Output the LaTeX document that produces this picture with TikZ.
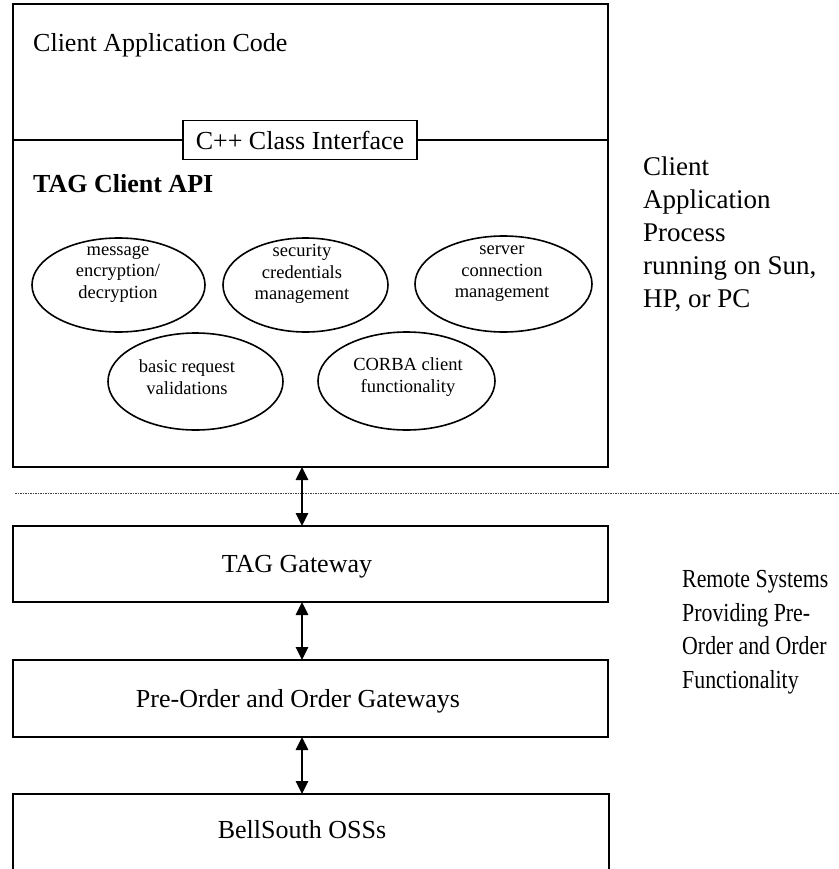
\documentclass[tikz,border=0pt]{standalone}
\usepackage{fontspec}
\setmainfont{Liberation Serif}
\newfontfamily\narrowserif[FakeStretch=0.84]{Liberation Serif}
\usetikzlibrary{arrows.meta,shapes.geometric}

\begin{document}
\begin{tikzpicture}[x=1pt,y=-1pt,
  frame/.style={draw, line width=1.8pt, inner sep=0pt, outer sep=0pt},
  bubble/.style={draw, ellipse, line width=1.6pt, inner sep=0pt, outer sep=0pt},
  bubbletext/.style={align=center, inner sep=0pt, font=\fontsize{18.5}{21.5}\selectfont},
  bigtext/.style={inner sep=0pt, font=\fontsize{26}{31}\selectfont},
  sidetext/.style={inner sep=0pt, align=left, anchor=base west, font=\fontsize{27}{33}\selectfont},
  sidetextnarrow/.style={inner sep=0pt, align=left, anchor=base west, font=\narrowserif\fontsize{26}{33.5}\selectfont},
  biarrow/.style={{Triangle[width=12.5pt,length=13pt]}-{Triangle[width=12.5pt,length=13pt]}, line width=1.4pt},
  boundary/.style={line width=1pt, black!75, dash pattern=on 1.5pt off 1pt}
]
\useasboundingbox (0,0) rectangle (838,869);

% client process frame
\node[frame, anchor=north west, minimum width=595pt, minimum height=463pt] (client) at (13,4) {};
\node[bigtext, anchor=base west] (code) at (33,52) {Client Application Code};

% interface box sitting on the divider
\node[frame, fill=white, minimum width=234pt, minimum height=39pt] (cpp) at (300,140) {};
\node[bigtext] (cpptext) at (cpp.center) {C++ Class Interface};
\draw[line width=1.8pt] (client.west |- cpp) -- (cpp.west);
\draw[line width=1.8pt] (cpp.east) -- (client.east |- cpp);

\node[bigtext, anchor=base west, font=\fontsize{26}{31}\selectfont\bfseries] (api) at (33,193) {TAG Client API};

% API components
\node[bubble, minimum width=173pt, minimum height=94pt] (e1) at (118.5,285) {};
\node[bubble, minimum width=165pt, minimum height=94pt] (e2) at (305.5,285) {};
\node[bubble, minimum width=177pt, minimum height=96pt] (e3) at (503.5,284) {};
\node[bubble, minimum width=175pt, minimum height=97pt] (e4) at (195.5,381.5) {};
\node[bubble, minimum width=177pt, minimum height=98pt] (e5) at (406.5,381) {};

\node[bubbletext] (t1) at (118,274) {message\\encryption/\\decryption};
\node[bubbletext] (t2) at (302,274) {security\\credentials\\management};
\node[bubbletext] (t3) at (502,274) {server\\connection\\management};
\node[bubbletext] (t4) at (187,377) {basic request\\validations};
\node[bubbletext] (t5) at (408,377) {CORBA client\\functionality};

% side notes (anchored on the baseline of their last line)
\node[sidetext] (note1) at (643,307) {Client\\Application\\Process\\running on Sun,\\HP, or PC};
\node[sidetextnarrow] (note2) at (682,688) {Remote Systems\\Providing Pre-\\Order and Order\\Functionality};

% process boundary
\coordinate (dotL) at (15,493);
\coordinate (dotR) at (838,493);
\draw[boundary] (dotL) -- (dotR);

% remote system boxes
\node[frame, anchor=north west, minimum width=595pt, minimum height=76pt] (tag) at (13,526) {};
\node[bigtext, anchor=base] (tagtext) at (297,572) {TAG Gateway};

\node[frame, anchor=north west, minimum width=595pt, minimum height=77pt] (gw) at (13,660) {};
\node[bigtext, anchor=base] (gwtext) at (298,707) {Pre-Order and Order Gateways};

\node[inner sep=0pt, outer sep=0pt, anchor=north west, minimum width=596pt, minimum height=80pt] (oss) at (13,794) {};
\draw[line width=1.8pt] (oss.south west) |- (oss.north east) -- (oss.south east);
\node[bigtext, anchor=base] (osstext) at (302,838) {BellSouth OSSs};

% links between layers
\coordinate (link) at (302,0);
\draw[biarrow] (client.south -| link) -- (tag.north -| link);
\draw[biarrow] (tag.south -| link) -- (gw.north -| link);
\draw[biarrow] (gw.south -| link) -- (oss.north -| link);
\end{tikzpicture}
\end{document}
